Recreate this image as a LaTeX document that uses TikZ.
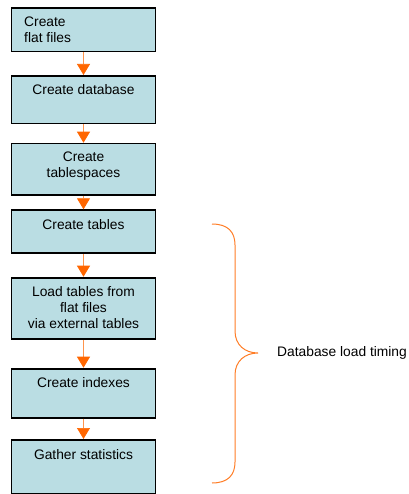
\documentclass[tikz,border=0pt]{standalone}
\usepackage{fontspec}
\setmainfont{Liberation Sans}
\usetikzlibrary{arrows.meta}
\definecolor{boxfill}{HTML}{BADDE3}
\definecolor{arrorange}{HTML}{FF6600}
\begin{document}
\begin{tikzpicture}[x=1bp,y=-1bp,
  box/.style={draw=black, line width=1.8bp, fill=boxfill, minimum width=144bp, inner sep=0pt, anchor=north},
  lbl/.style={inner sep=0pt, anchor=base, font=\fontsize{13.8bp}{16bp}\selectfont},
  flow/.style={draw=arrorange!70, line width=0.7bp, -{Triangle[width=13bp,length=11bp,fill=arrorange,color=arrorange]}},
  bracestyle/.style={draw=arrorange!85, line width=1bp}]
\useasboundingbox (0,0) rectangle (408,494);
% boxes
\node[box, minimum height=43.4bp] (b1) at (83.5,7.3) {};
\node[box, minimum height=47.7bp] (b2) at (83.5,75) {};
\node[box, minimum height=51.3bp] (b3) at (83.5,142.7) {};
\node[box, minimum height=43bp]   (b4) at (83.5,209.3) {};
\node[box, minimum height=61.6bp] (b5) at (83.5,276.7) {};
\node[box, minimum height=49bp]   (b6) at (83.5,367.7) {};
\node[box, minimum height=54bp]   (b7) at (83.5,439) {};
% labels
\node[lbl, anchor=base west] (t1) at (24,27) {\parbox[t]{120bp}{\raggedright Create\\flat files}};
\node[lbl] (t2) at (83.5,94.5) {\parbox[t]{140bp}{\centering Create database}};
\node[lbl] (t3) at (83.5,162) {\parbox[t]{140bp}{\centering Create\\tablespaces}};
\node[lbl] (t4) at (83.5,229) {\parbox[t]{140bp}{\centering Create tables}};
\node[lbl] (t5) at (83.5,296) {\parbox[t]{140bp}{\centering Load tables from\\flat files\\via external tables}};
\node[lbl] (t6) at (83.5,387) {\parbox[t]{140bp}{\centering Create indexes}};
\node[lbl] (t7) at (83.5,459) {\parbox[t]{140bp}{\centering Gather statistics}};
% arrows
\draw[flow] (b1.south) -- (b2.north);
\draw[flow] (b2.south) -- (b3.north);
\draw[flow] (b3.south) -- (b4.north);
\draw[flow] (b4.south) -- (b5.north);
\draw[flow] (b5.south) -- (b6.north);
\draw[flow] (b6.south) -- (b7.north);
% brace
\coordinate (bt) at (212,224);
\coordinate (bb) at (212,483);
\coordinate (tip) at (258,353);
\draw[bracestyle] (bt) .. controls (228,224) and (235,232) .. (235,245)
  -- (235,331) .. controls (235,345) and (245,353) .. (tip)
  .. controls (245,353) and (235,361) .. (235,375)
  -- (235,462) .. controls (235,475) and (228,483) .. (bb);
\node[lbl, anchor=west] (timing) at (277,353) {Database load timing};
\end{tikzpicture}
\end{document}
